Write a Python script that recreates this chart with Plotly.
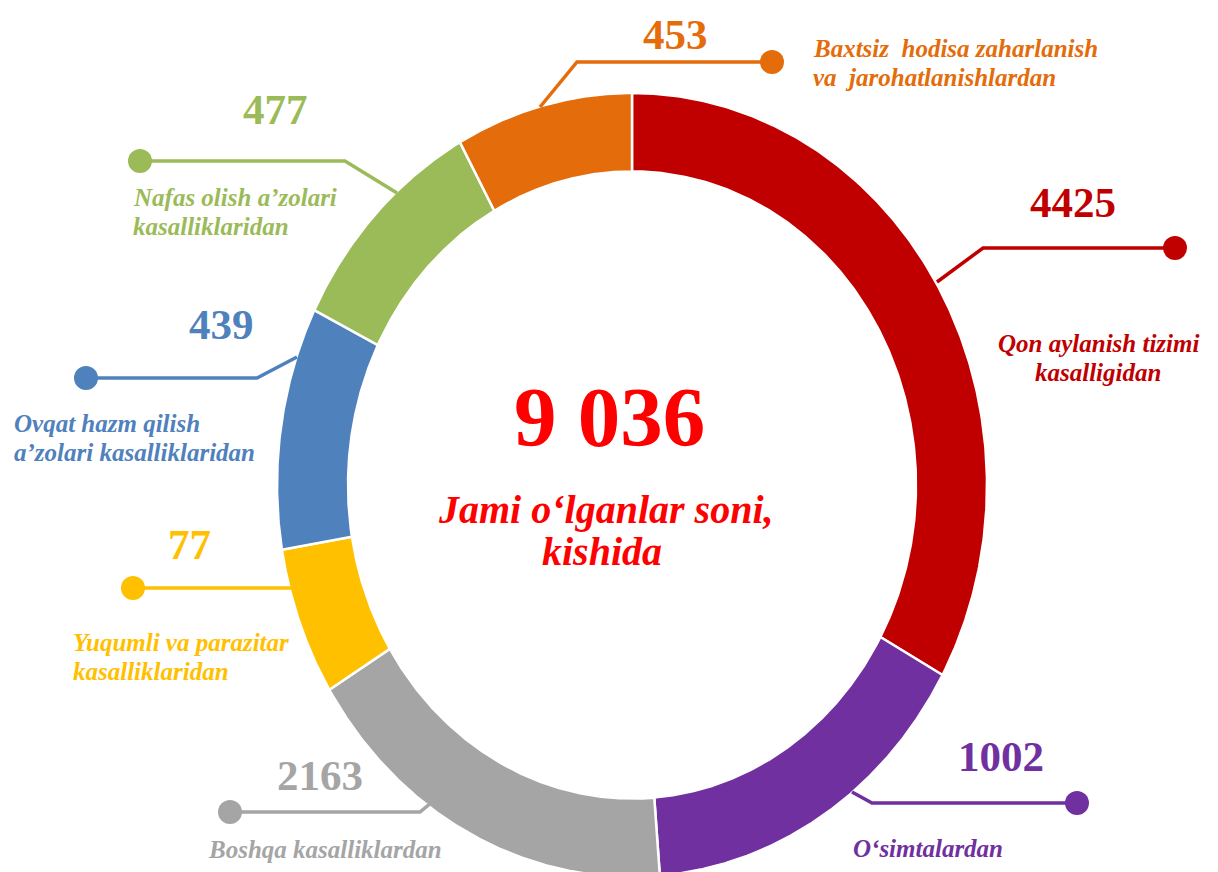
import numpy as np
import plotly.graph_objects as go

# ---------------- data ----------------
categories = [
    "Qon aylanish tizimi kasalligidan",
    "O‘simtalardan",
    "Boshqa kasalliklardan",
    "Yuqumli va parazitar kasalliklaridan",
    "Ovqat hazm qilish a’zolari kasalliklaridan",
    "Nafas olish a’zolari kasalliklaridan",
    "Baxtsiz hodisa zaharlanish va jarohatlanishlardan",
]
deaths = [4425, 1002, 2163, 77, 439, 477, 453]
# arc size of each slice as drawn in the picture (degrees of the ring)
slice_share = [119, 56.5, 63, 22, 36, 34.5, 29]
colors = ["#C00000", "#7030A0", "#A5A5A5", "#FFC000", "#4F81BD", "#9BBB59", "#E46C0A"]
center_title = ["Jami o‘lganlar soni,", "kishida"]

total = sum(deaths)
total_text = f"{total:,}".replace(",", " ")

# ---------------- layout geometry (pixels) ----------------
W, H = 1218, 872
CX, CY = 632, 485          # ring centre
RX, RY = 355, 392          # outer radii (ring is slightly stretched vertically)
HOLE = 0.80
SERIF = "Liberation Serif, Times New Roman, serif"
LABEL_SIZE = 25

# per-slice label placement: number centre, leader path, label lines (text, x, baseline, anchor)
label_layout = [
    dict(num=(1073, 202), path=[(937, 282), (983, 248), (1175, 248)],
         lines=[("Qon aylanish tizimi", 1098, 352, "center"), ("kasalligidan", 1098, 381, "center")]),
    dict(num=(1001, 756), path=[(852, 792), (872, 803), (1077, 803)],
         lines=[("O‘simtalardan", 928, 857, "center")]),
    dict(num=(320, 775), path=[(467, 773), (420, 812), (230, 812)],
         lines=[("Boshqa kasalliklardan", 325, 858, "center")]),
    dict(num=(189, 544), path=[(340, 565), (297, 588), (133, 588)],
         lines=[("Yuqumli va parazitar", 72, 651, "left"), ("kasalliklaridan", 72, 680, "left")]),
    dict(num=(221, 324), path=[(297, 357), (257, 378), (86, 378)],
         lines=[("Ovqat hazm qilish", 13, 432, "left"), ("a’zolari kasalliklaridan", 13, 461, "left")]),
    dict(num=(275, 109), path=[(397, 193), (345, 161), (140, 161)],
         lines=[("Nafas olish a’zolari", 132, 206, "left"), ("kasalliklaridan", 132, 235, "left")]),
    dict(num=(675, 34), path=[(540, 107), (577, 62), (772, 62)],
         lines=[("Baxtsiz\u00a0 hodisa zaharlanish", 812, 57, "left"),
                ("va\u00a0 jarohatlanishlardan", 812, 86, "left")]),
]


def px(x):
    return x / W


def py(y):
    return 1 - y / H


fig = go.Figure()

# ---------------- ring slices ----------------
tot_share = sum(slice_share)
start = 0.0
for name, val, share, col in zip(categories, deaths, slice_share, colors):
    span = share / tot_share * 360.0
    th = np.radians(np.linspace(start, start + span, 240))
    xo, yo = np.sin(th), np.cos(th)
    xs = np.concatenate([xo, HOLE * xo[::-1], xo[:1]])
    ys = np.concatenate([yo, HOLE * yo[::-1], yo[:1]])
    fig.add_trace(go.Scatter(
        x=xs, y=ys, mode="lines", fill="toself", fillcolor=col,
        line=dict(color="white", width=2.5),
        hoveron="fills", hoverinfo="text", text=f"{name}: {val}",
        showlegend=False))
    start += span

shapes = []
annotations = []
DOT = 12
for col, val, lay in zip(colors, deaths, label_layout):
    pts = lay["path"]
    d = "M " + " L ".join(f"{px(x):.5f},{py(y):.5f}" for x, y in pts)
    shapes.append(dict(type="path", path=d, xref="paper", yref="paper",
                       line=dict(color=col, width=3.5), layer="above"))
    dx, dy = pts[-1]
    shapes.append(dict(type="circle", xref="paper", yref="paper",
                       x0=px(dx - DOT), x1=px(dx + DOT), y0=py(dy + DOT), y1=py(dy - DOT),
                       fillcolor=col, line=dict(color=col, width=0), layer="above"))
    nx, ny = lay["num"]
    annotations.append(dict(text=str(val), x=px(nx), y=py(ny), xref="paper", yref="paper",
                            xanchor="center", yanchor="middle", showarrow=False,
                            font=dict(family=SERIF, size=43, color=col, weight="bold")))
    for txt, lx, base, anc in lay["lines"]:
        s = LABEL_SIZE
        annotations.append(dict(text=txt, x=px(lx), y=py(base - 0.3375 * s),
                                xref="paper", yref="paper", xanchor=anc, yanchor="middle",
                                showarrow=False, borderpad=0,
                                font=dict(family=SERIF, size=s, color=col,
                                          weight="bold", style="italic")))

# centre texts
annotations.append(dict(text=total_text, x=px(609), y=py(417), xref="paper", yref="paper",
                        xanchor="center", yanchor="middle", showarrow=False,
                        font=dict(family=SERIF, size=85, color="#FF0000", weight="bold")))
for txt, cx_, base in zip(center_title, [606, 602], [523, 565]):
    s = 40
    annotations.append(dict(text=txt, x=px(cx_), y=py(base - 0.3375 * s), xref="paper", yref="paper",
                            xanchor="center", yanchor="middle", showarrow=False, borderpad=0,
                            font=dict(family=SERIF, size=s, color="#FF0000",
                                      weight="bold", style="italic")))

fig.update_layout(
    width=W, height=H, autosize=False,
    margin=dict(l=0, r=0, t=0, b=0),
    paper_bgcolor="white", plot_bgcolor="white",
    xaxis=dict(range=[-CX / RX, (W - CX) / RX], visible=False, fixedrange=True),
    yaxis=dict(range=[-(H - CY) / RY, CY / RY], visible=False, fixedrange=True),
    shapes=shapes, annotations=annotations, showlegend=False,
)

fig.write_html("out.html", config={"displayModeBar": False},
               post_script="document.body.style.margin='0';document.body.style.overflow='hidden';")
